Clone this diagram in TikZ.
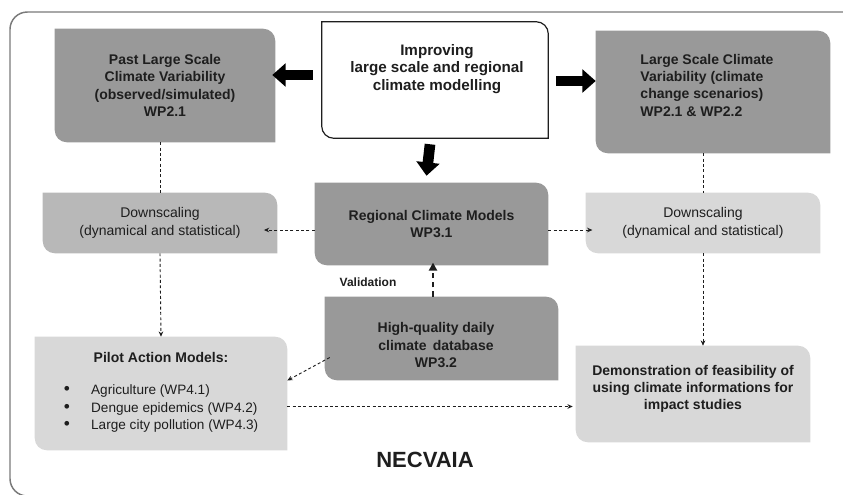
\documentclass[tikz,border=0pt]{standalone}
\usepackage{fontspec}
\setmainfont{Liberation Sans}
\usetikzlibrary{arrows.meta,backgrounds}
\definecolor{necDark}{HTML}{999999}
\definecolor{necMid}{HTML}{B8B8B8}
\definecolor{necLight}{HTML}{D8D8D8}
\definecolor{necInk}{HTML}{1E1E1E}
\definecolor{necFrame}{HTML}{7A7A7A}
% box with rounded top-right and bottom-left corners
\newcommand{\necr}{9pt}
\newcommand{\necleaf}[2]{%
  \path[#2] (#1.north west) -- ([xshift=-\necr]#1.north east)
    arc[start angle=90, end angle=0, radius=\necr] -- (#1.south east)
    -- ([xshift=\necr]#1.south west)
    arc[start angle=270, end angle=180, radius=\necr] -- cycle;}
\newcommand{\necdot}{{\fontsize{13}{13}\selectfont\textbullet}}
\tikzset{
  nec box/.style={rectangle, inner sep=0pt, align=center, text=necInk, font=\fontsize{10.5}{13}\selectfont\bfseries},
  nec plain/.style={nec box, font=\fontsize{10.5}{13}\selectfont},
  nec frame/.style={draw=necFrame, line width=1.1pt},
  nec big arrow/.style={draw=black, line width=8pt, -{Triangle[length=10pt, width=17pt]}},
  nec link/.style={draw=necInk, line width=0.7pt, dash pattern=on 2.2pt off 1.8pt, -{Stealth[length=4pt, width=3.5pt]}},
  nec line/.style={draw=necInk, line width=0.7pt, dash pattern=on 2.2pt off 1.8pt},
  nec check/.style={draw=necInk, line width=1.5pt, dash pattern=on 4pt off 3pt, -{Triangle[length=6pt, width=6pt]}},
}

\begin{document}
\begin{tikzpicture}[x=0.75pt, y=-0.75pt]
  \useasboundingbox (0,0) rectangle (843,494);
  \draw[nec frame, rounded corners=13pt] (860,12) -- (10,12) -- (10,496) -- (860,496);

  % Top row
  \node[nec box, minimum width=165pt, minimum height=84.75pt] (past) at (165,85.5)
    {Past Large Scale\\Climate Variability\\(observed/simulated)\\WP2.1};
  \node[minimum width=169.5pt, minimum height=87pt, inner sep=0pt] (improve) at (435,80) {};
  \node[nec box, font=\fontsize{11.4}{13.2}\selectfont\bfseries] (improvetext) at (437,69)
    {Improving\\large scale and regional\\climate modelling};
  \node[minimum width=175.5pt, minimum height=91.5pt, inner sep=0pt] (large) at (713,92) {};
  \node[nec box, align=left] (largetext) at (707,85)
    {Large Scale Climate\\Variability (climate\\change scenarios)\\WP2.1 \& WP2.2};

  % Middle row
  \node[nec plain, minimum width=175.5pt, minimum height=45pt] (dsleft) at (160,223)
    {Downscaling\\(dynamical and statistical)};
  \node[nec box, minimum width=174.75pt, minimum height=61.5pt] (regional) at (431.5,224)
    {Regional Climate Models\\WP3.1};
  \node[nec plain, minimum width=175.5pt, minimum height=45pt] (dsright) at (703,223)
    {Downscaling\\(dynamical and statistical)};

  % Bottom row
  \node[minimum width=174.75pt, minimum height=62.25pt, inner sep=0pt] (hq) at (441.5,338.5) {};
  \node[nec box] (hqtext) at (436,345) {High-quality daily\\climate\, database\\WP3.2};
  \node[nec plain, minimum width=189pt, minimum height=84.75pt] (pilot) at (161,393.5)
    {\textbf{Pilot Action Models:}\\[14pt]
     {\fontsize{10.2}{13}\selectfont
     \begin{tabular}{@{}l@{\hspace{16pt}}l@{}}
       \necdot & Agriculture (WP4.1)\\
       \necdot & Dengue epidemics (WP4.2)\\
       \necdot & Large city pollution (WP4.3)
     \end{tabular}}};
  \node[minimum width=175.5pt, minimum height=72pt, inner sep=0pt] (demo) at (693,394) {};
  \node[nec box] (demotext) at (693,389)
    {Demonstration of feasibility of\\using climate informations for\\impact studies};

  \node[nec box, font=\fontsize{9}{11}\selectfont\bfseries] (validation) at (368,282) {Validation};
  \node[nec box, font=\fontsize{16.5}{19}\selectfont\bfseries] (title) at (425,460) {NECVAIA};

  % Box backgrounds
  \begin{scope}[on background layer]
    \necleaf{past}{fill=necDark}
    \necleaf{improve}{fill=white, draw=necInk, line width=0.9pt}
    \necleaf{large}{fill=necDark}
    \necleaf{dsleft}{fill=necMid}
    \necleaf{regional}{fill=necDark}
    \necleaf{dsright}{fill=necLight}
    \necleaf{hq}{fill=necDark}
    \necleaf{pilot}{fill=necLight}
    \necleaf{demo}{fill=necLight}
  \end{scope}

  % Thick arrows from the central box
  \draw[nec big arrow] ([shift={(-9,-5)}]improve.west) -- ([shift={(-3,-5)}]improve.west -| past.east);
  \draw[nec big arrow] ([shift={(8,1)}]improve.east) -- ([shift={(0,1)}]improve.east -| large.west);
  \draw[nec big arrow] ([shift={(-5,6)}]improve.south) -- ([shift={(-5,-7)}]regional.north);

  % Dashed links
  \draw[nec line] (past.south -| dsleft.north) -- (dsleft.north);
  \draw[nec link] (dsleft.south) -- (pilot.north);
  \draw[nec line] (large.south -| dsright.north) -- (dsright.north);
  \draw[nec link] (dsright.south) -- (dsright.south |- demo.north);
  \draw[nec link, shorten >=-10pt] ([yshift=-4.5pt]regional.west) -- ([yshift=-4.5pt]regional.west -| dsleft.east);
  \draw[nec link, shorten >=-5pt] ([yshift=-4.5pt]regional.east) -- ([yshift=-4.5pt]regional.east -| dsright.west);
  \draw[nec check] (hq.north -| {(433,0)}) -- ([yshift=2pt]regional.south -| {(433,0)});
  \draw[nec link] ([shift={(5,19)}]hq.west) -- ([shift={(0,-13)}]pilot.east);
  \draw[nec link] ([shift={(0,13)}]pilot.east) -- ([shift={(-3,13)}]pilot.east -| demo.west);
\end{tikzpicture}
\end{document}
